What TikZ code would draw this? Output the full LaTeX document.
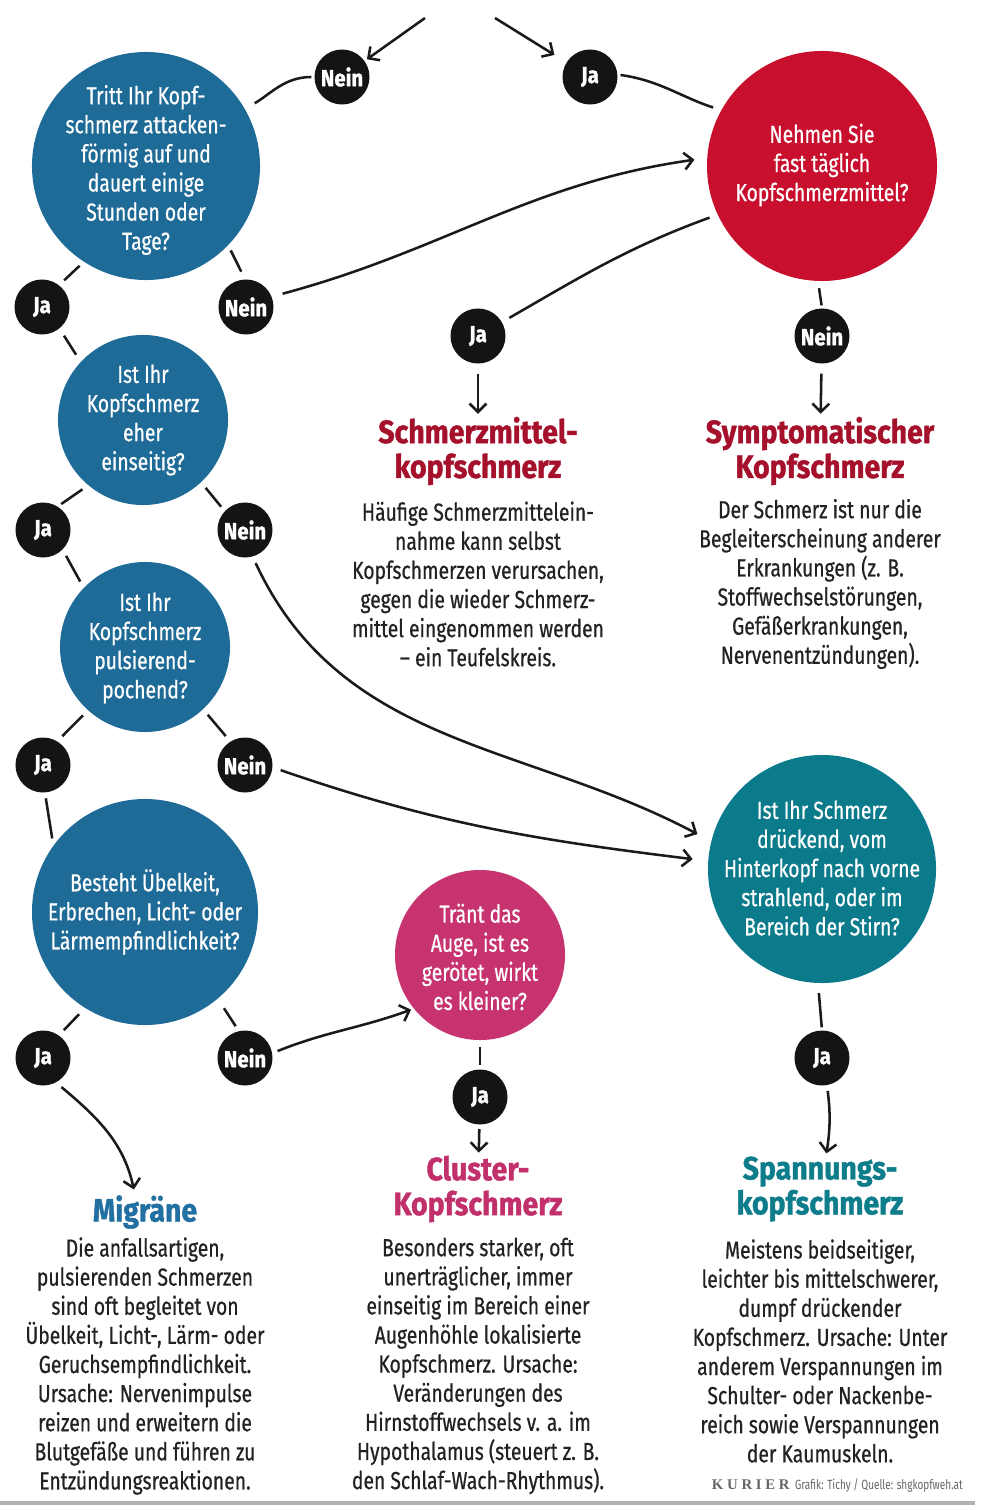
\documentclass[tikz,border=0pt]{standalone}
\usepackage{fontspec}
\setmainfont{Fira Sans}[FakeStretch=0.785, FakeBold=0.6]
\newfontfamily\titlefont{Fira Sans}[FakeStretch=0.88, BoldFeatures={FakeBold=1.2}]
\newfontfamily\kurierfont{Liberation Serif}[LetterSpace=25]
\newfontfamily\creditfont{Fira Sans}[FakeStretch=0.75]
\usetikzlibrary{arrows.meta,calc}
\definecolor{qblue}{HTML}{1F6B98}
\definecolor{qred}{HTML}{C8102E}
\definecolor{qpink}{HTML}{C7336F}
\definecolor{qteal}{HTML}{0B7B8C}
\definecolor{tred}{HTML}{A5102B}
\definecolor{tblue}{HTML}{2270A2}
\definecolor{tpink}{HTML}{C2306C}
\definecolor{tteal}{HTML}{0E7D8B}
\definecolor{txt}{HTML}{222222}
\definecolor{badgeblack}{HTML}{141414}
\definecolor{linecol}{HTML}{1A1A1A}
\definecolor{creditgray}{HTML}{666666}
\begin{document}
\begin{tikzpicture}[x=0.025cm,y=0.025cm,
  qc/.style={circle, inner sep=0pt, draw=none},
  qt/.style={text=white, align=center, inner sep=0pt, font=\fontsize{17.5}{20.7}\selectfont},
  badge/.style={circle, fill=badgeblack, text=white, inner sep=0pt, minimum size=1.375cm, font=\titlefont\bfseries\fontsize{16.5}{16}\selectfont},
  ttl/.style={align=center, inner sep=0pt, font=\titlefont\bfseries\fontsize{23}{24.8}\selectfont},
  desc/.style={align=center, inner sep=0pt, text=txt, font=\fontsize{17.5}{20.7}\selectfont},
  conn/.style={draw=linecol, line width=1.8pt},
  arr/.style={conn, -{Straight Barb[length=6pt,width=12pt]}}
]
\useasboundingbox (0,0) rectangle (985,-1510);
\fill[white] (0,0) rectangle (985,-1510);

% question circles
\node[qc, fill=qblue, minimum size=5.7cm]  (q1) at (146,-166) {};
\node[qt] (q1t) at (146,-170) {Tritt Ihr Kopf-\\schmerz attacken-\\förmig auf und\\dauert einige\\Stunden oder\\Tage?};
\node[qc, fill=qred, minimum size=5.75cm] (q2) at (822,-166) {};
\node[qt] (q2t) at (822,-165) {Nehmen Sie\\fast täglich\\Kopfschmerzmittel?};
\node[qc, fill=qblue, minimum size=4.25cm] (q3) at (143,-420) {};
\node[qt] (q3t) at (143,-420) {Ist Ihr\\Kopfschmerz\\eher\\einseitig?};
\node[qc, fill=qblue, minimum size=4.25cm] (q4) at (145,-647) {};
\node[qt] (q4t) at (145,-648) {Ist Ihr\\Kopfschmerz\\pulsierend-\\pochend?};
\node[qc, fill=qblue, minimum size=5.65cm] (q5) at (145,-912) {};
\node[qt] (q5t) at (145,-912) {Besteht Übelkeit,\\Erbrechen, Licht- oder\\Lärmempfindlichkeit?};
\node[qc, fill=qpink, minimum size=4.25cm] (q6) at (480,-955) {};
\node[qt] (q6t) at (480,-957) {Tränt das\\Auge, ist es\\gerötet, wirkt\\es kleiner?};
\node[qc, fill=qteal, minimum size=5.7cm] (q7) at (822,-869) {};
\node[qt] (q7t) at (822,-868) {Ist Ihr Schmerz\\drückend, vom\\Hinterkopf nach vorne\\strahlend, oder im\\Bereich der Stirn?};

% badges
\node[badge] (nein1) at (342,-77) {Nein};
\node[badge] (ja1) at (590,-77) {Ja};
\node[badge] (ja2) at (42,-307) {Ja};
\node[badge] (nein2) at (246,-307) {Nein};
\node[badge] (ja3) at (478,-336) {Ja};
\node[badge] (nein3) at (822,-336) {Nein};
\node[badge] (ja4) at (43,-530) {Ja};
\node[badge] (nein4) at (245,-530) {Nein};
\node[badge] (ja5) at (43,-765) {Ja};
\node[badge] (nein5) at (245,-765) {Nein};
\node[badge] (ja6) at (43,-1058) {Ja};
\node[badge] (nein6) at (245,-1058) {Nein};
\node[badge] (ja7) at (480,-1097) {Ja};
\node[badge] (ja8) at (822,-1058) {Ja};

% titles
\node[ttl, text=tred] (t1) at (478,-451) {Schmerzmittel-\\kopfschmerz};
\node[ttl, text=tred] (t2) at (820,-451) {Symptomatischer\\Kopfschmerz};
\node[ttl, text=tblue] (t3) at (145,-1212) {Migräne};
\node[ttl, text=tpink] (t4) at (478,-1189) {Cluster-\\Kopfschmerz};
\node[ttl, text=tteal] (t5) at (820,-1189) {Spannungs-\\kopfschmerz};

% descriptions
\node[desc] (d1) at (478,-584) {Häufige Schmerzmittelein-\\nahme kann selbst\\Kopfschmerzen verursachen,\\gegen die wieder Schmerz-\\mittel eingenommen werden\\– ein Teufelskreis.};
\node[desc] (d2) at (820,-584) {Der Schmerz ist nur die\\Begleiterscheinung anderer\\Erkrankungen (z. B.\\Stoffwechselstörungen,\\Gefäßerkrankungen,\\Nervenentzündungen).};
\node[desc] (d3) at (145,-1366) {Die anfallsartigen,\\pulsierenden Schmerzen\\sind oft begleitet von\\Übelkeit, Licht-, Lärm- oder\\Geruchsempfindlichkeit.\\Ursache: Nervenimpulse\\reizen und erweitern die\\Blutgefäße und führen zu\\Entzündungsreaktionen.};
\node[desc] (d4) at (478,-1366) {Besonders starker, oft\\unerträglicher, immer\\einseitig im Bereich einer\\Augenhöhle lokalisierte\\Kopfschmerz. Ursache:\\Veränderungen des\\Hirnstoffwechsels v. a. im\\Hypothalamus (steuert z. B.\\den Schlaf-Wach-Rhythmus).};
\node[desc] (d5) at (820,-1351) {Meistens beidseitiger,\\leichter bis mittelschwerer,\\dumpf drückender\\Kopfschmerz. Ursache: Unter\\anderem Verspannungen im\\Schulter- oder Nackenbe-\\reich sowie Verspannungen\\der Kaumuskeln.};

% credit
\node[anchor=east, text=creditgray, inner sep=0pt] (credit) at (963,-1486) {{\kurierfont\bfseries\fontsize{10.5}{12}\selectfont KURIER}\hspace{4pt}{\creditfont\fontsize{9.5}{11}\selectfont Grafik: Tichy / Quelle: shgkopfweh.at}};
\draw[line width=2.2pt, draw=gray!60] (0,-1503) -- (975,-1503);

% connectors
\coordinate (s1) at (425,-18);
\coordinate (s2) at (495,-18);
\draw[arr, shorten >=2pt] (s1) -- (nein1);
\draw[arr, shorten >=10pt] (s2) -- (ja1);
\draw[conn, shorten <=8pt, shorten >=2pt] (q1) to[out=30,in=180] (nein1);
\draw[conn, shorten <=2pt, shorten >=6pt] (ja1.5) to[out=-8,in=162] (q2.151);
\draw[conn, shorten <=4pt, shorten >=5pt] (q1.237) -- (ja2.52);
\draw[conn, shorten <=4pt, shorten >=6pt] (q1.-44) -- (nein2.92);
\draw[arr, shorten <=8pt, shorten >=9pt] (nein2.22) to[out=15,in=188] (q2.176);
\draw[conn, shorten <=6pt, shorten >=6pt] (q2.205) to[out=200,in=30] (ja3.30);
\draw[conn, shorten <=5pt, shorten >=2pt] (q2.-92) -- (nein3.90);
\draw[arr, shorten <=7pt, shorten >=2pt] (ja3) -- (t1);
\draw[arr, shorten <=7pt, shorten >=2pt] (nein3) -- (t2);
\draw[conn, shorten <=6pt, shorten >=6pt] (ja2.-51) -- (q3.137);
\draw[conn, shorten <=5pt, shorten >=3pt] (q3.230) -- (ja4.58);
\draw[conn, shorten <=5pt, shorten >=4pt] (q3.-47) -- (nein4.137);
\draw[conn, shorten <=5pt, shorten >=5pt] (ja4.-45) -- (q4.136);
\draw[arr, shorten <=5pt, shorten >=11pt] (nein4.-74) to[out=-65,in=152] (q7.166);
\draw[conn, shorten <=5pt, shorten >=5pt] (q4.228) -- (ja5.59);
\draw[conn, shorten <=5pt, shorten >=5pt] (q4.-47) -- (nein5.122);
\draw[arr, shorten <=6pt, shorten >=11pt] (nein5.-5) to[out=-19,in=173] (q7.176);
\draw[conn, shorten <=4pt, shorten >=5pt] (ja5.-86) -- (q5.144);
\draw[conn, shorten <=6pt, shorten >=5pt] (q5.238) -- (ja6.55);
\draw[conn, shorten <=8pt, shorten >=4pt] (q5.-50) -- (nein6.103);
\draw[arr, shorten <=4pt, shorten >=2pt] (nein6.10) to[out=22,in=200] (q6.219);
\draw[arr, shorten <=5pt, shorten >=4pt] (ja6.-62) to[out=-40,in=102] ($(t3.north)+(-10,0)$);
\draw[conn, shorten <=5pt, shorten >=3pt] (q6.-90) -- (ja7.90);
\draw[arr, shorten <=3pt, shorten >=2pt] (ja7) -- (t4);
\draw[conn, shorten <=7pt, shorten >=2pt] (q7.-92) -- (ja8.90);
\draw[arr, shorten <=4pt, shorten >=2pt] (ja8) to[bend left=8] ($(t5.north)+(6,0)$);
\end{tikzpicture}
\end{document}
